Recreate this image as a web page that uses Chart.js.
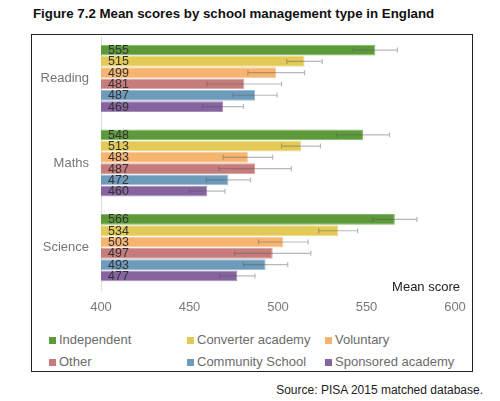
<!DOCTYPE html>
<html>
<head>
<meta charset="utf-8">
<script src="https://cdn.jsdelivr.net/npm/chart.js@4"></script>
<style>
html,body{margin:0;padding:0;background:#fff;}
body{width:500px;height:401px;position:relative;overflow:hidden;font-family:"Liberation Sans",Arial,sans-serif;}
#title{position:absolute;left:33px;top:6px;font-weight:bold;font-size:13.3px;color:#111;white-space:nowrap;}
#box{position:absolute;left:31px;top:34px;width:440px;height:336px;border:1.6px solid #222;}
#wrap{position:absolute;left:32px;top:35px;width:440px;height:285px;}
.leg{position:absolute;font-size:13px;color:#6b6b6b;white-space:nowrap;line-height:16px;}
.leg i{display:inline-block;width:7px;height:7px;margin-right:3px;vertical-align:0px;}
#source{position:absolute;right:17px;top:383px;font-size:12px;color:#222;white-space:nowrap;}
</style>
</head>
<body>
<div id="title">Figure 7.2 Mean scores by school management type in England</div>
<div id="box"></div>
<div id="wrap"><canvas id="c"></canvas></div>
<div id="legend"></div>
<div id="source">Source: PISA 2015 matched database.</div>
<script>
const categories = ["Reading", "Maths", "Science"];
const seriesNames = ["Independent", "Converter academy", "Voluntary", "Other", "Community School", "Sponsored academy"];
const independent = [555, 548, 566];
const converterAcademy = [515, 513, 534];
const voluntary = [499, 483, 503];
const other = [481, 487, 497];
const communitySchool = [487, 472, 493];
const sponsoredAcademy = [469, 460, 477];
const errIndependent = [12.5, 15, 12.5];
const errConverter = [10, 11, 11];
const errVoluntary = [16, 14, 14];
const errOther = [21, 20.5, 21.5];
const errCommunity = [12.5, 12.5, 12.5];
const errSponsored = [11.5, 10, 10];
const xTicks = [400, 450, 500, 550, 600];
const xTitle = "Mean score";

const colors = ["#5d9b3a", "#e3ca57", "#f5b470", "#c77c7c", "#6e9bbb", "#85649f"];
const borders = ["#86b86a", "#efdc8a", "#f9cc9c", "#dba2a2", "#9dbdd3", "#a98bc0"];
const values = [independent, converterAcademy, voluntary, other, communitySchool, sponsoredAcademy];
const errors = [errIndependent, errConverter, errVoluntary, errOther, errCommunity, errSponsored];

const datasets = seriesNames.map((n, i) => ({
  label: n,
  data: values[i],
  errors: errors[i],
  backgroundColor: colors[i],
  borderColor: borders[i],
  borderWidth: 1,
  borderSkipped: false,
  barPercentage: 0.95,
  categoryPercentage: 0.8
}));

const extras = {
  id: 'extras',
  afterDatasetsDraw(chart) {
    const ctx = chart.ctx;
    const xs = chart.scales.x;
    const area = chart.chartArea;
    chart.data.datasets.forEach((ds, di) => {
      const meta = chart.getDatasetMeta(di);
      meta.data.forEach((el, j) => {
        const v = ds.data[j], e = ds.errors[j];
        const x1 = xs.getPixelForValue(v - e), x2 = xs.getPixelForValue(v + e);
        const y = el.y;
        ctx.save();
        ctx.strokeStyle = 'rgba(85,85,85,0.42)';
        ctx.lineWidth = 1.2;
        ctx.beginPath();
        ctx.moveTo(x1, y); ctx.lineTo(x2, y);
        ctx.moveTo(x1, y - 2.5); ctx.lineTo(x1, y + 2.5);
        ctx.moveTo(x2, y - 2.5); ctx.lineTo(x2, y + 2.5);
        ctx.stroke();
        ctx.fillStyle = '#333';
        ctx.font = '12.5px "Liberation Sans", Arial, sans-serif';
        ctx.textBaseline = 'middle';
        ctx.textAlign = 'left';
        ctx.fillText(String(v), area.left + 7, y + 0.5);
        ctx.restore();
      });
    });
    ctx.save();
    ctx.fillStyle = '#222';
    ctx.font = '13px "Liberation Sans", Arial, sans-serif';
    ctx.textAlign = 'right';
    ctx.textBaseline = 'middle';
    ctx.fillText(xTitle, area.right + 5, area.bottom - 3);
    ctx.restore();
  }
};

new Chart(document.getElementById('c'), {
  type: 'bar',
  data: { labels: categories, datasets },
  options: {
    indexAxis: 'y',
    responsive: true,
    maintainAspectRatio: false,
    animation: false,
    layout: { padding: { top: 1, right: 17, left: 0, bottom: 0 } },
    plugins: { legend: { display: false }, tooltip: { enabled: false } },
    scales: {
      x: {
        min: 400, max: 600,
        afterBuildTicks(s) { s.ticks = xTicks.map(v => ({ value: v })); },
        afterFit(s) { s.height = 30; s.paddingLeft = 0; s.paddingRight = 0; },
        grid: { display: false, drawTicks: false },
        border: { display: false },
        ticks: { color: '#7a7a7a', font: { size: 13, family: '"Liberation Sans", Arial, sans-serif' }, padding: 10 }
      },
      y: {
        afterFit(s) { s.width = 69; s.paddingTop = 0; s.paddingBottom = 0; },
        grid: { display: false, drawTicks: false },
        border: { display: true, color: '#dedede', width: 1 },
        ticks: { color: '#777', font: { size: 13, family: '"Liberation Sans", Arial, sans-serif' }, padding: 12 }
      }
    }
  },
  plugins: [extras]
});

const legendPos = [[49, 332], [187, 332], [325, 332], [49, 354], [187, 354], [325, 354]];
const lg = document.getElementById('legend');
seriesNames.forEach((n, i) => {
  const d = document.createElement('div');
  d.className = 'leg';
  d.style.left = legendPos[i][0] + 'px';
  d.style.top = legendPos[i][1] + 'px';
  d.innerHTML = '<i style="background:' + colors[i] + '"></i>' + n;
  lg.appendChild(d);
});
</script>
</body>
</html>
